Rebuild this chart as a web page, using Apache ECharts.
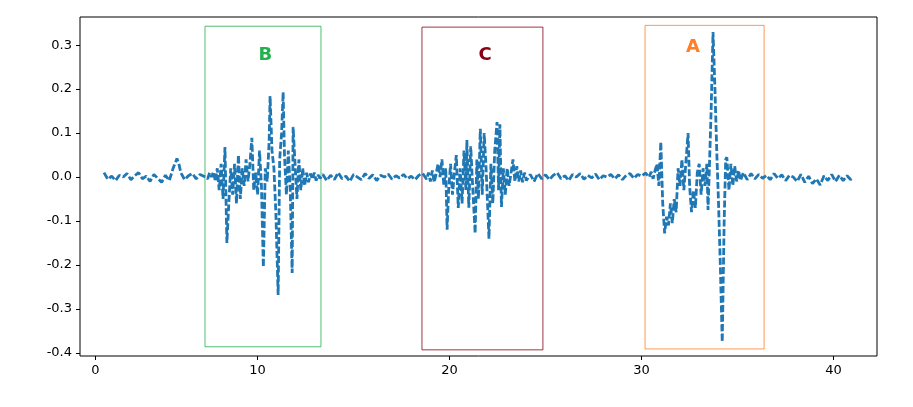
<!DOCTYPE html>
<html><head><meta charset="utf-8">
<script src="https://cdn.jsdelivr.net/npm/echarts@6/dist/echarts.min.js"></script>
<style>html,body{margin:0;padding:0;background:#fff}#c{width:913px;height:407px}</style>
</head><body><div id="c"></div>
<script>
const calm1=[[2.0,0.01],[2.2,-0.005],[2.4,0.002],[2.6,-0.008],[2.8,0.004],[3.0,0.0],[3.2,0.008],[3.4,-0.006],[3.6,0.003],[3.8,0.01],[4.0,-0.004],[4.2,0.002],[4.4,-0.01],[4.6,0.006],[4.8,-0.003],[5.0,-0.012],[5.2,0.004],[5.4,-0.008],[5.6,0.02],[5.8,0.042],[5.9,0.03],[6.0,0.01],[6.2,-0.006],[6.4,0.003],[6.6,0.008],[6.8,-0.004],[7.0,0.006],[7.2,0.002]];
const burstB=[[7.3,0.006],[7.4,-0.004],[7.5,0.01],[7.6,0.0],[7.7,0.012],[7.8,-0.01],[7.9,0.02],[8.0,-0.03],[8.1,0.03],[8.2,-0.05],[8.3,0.068],[8.4,-0.15],[8.5,-0.06],[8.6,0.02],[8.7,-0.04],[8.8,0.03],[8.9,-0.06],[9.0,0.05],[9.1,-0.05],[9.2,0.02],[9.3,-0.02],[9.4,0.04],[9.5,-0.01],[9.6,0.03],[9.7,0.089],[9.8,-0.03],[9.9,0.01],[10.0,-0.04],[10.1,0.06],[10.2,-0.02],[10.3,-0.205],[10.4,0.02],[10.5,-0.01],[10.6,0.08],[10.65,0.184],[10.75,0.06],[10.85,0.02],[10.95,-0.08],[11.07,-0.268],[11.15,0.04],[11.25,0.1],[11.33,0.193],[11.4,0.05],[11.5,-0.04],[11.6,0.06],[11.7,-0.03],[11.8,-0.218],[11.85,0.114],[11.95,0.03],[12.05,-0.05],[12.15,0.04],[12.25,-0.03],[12.35,0.02],[12.45,-0.02],[12.55,0.01],[12.65,-0.012],[12.75,0.008],[12.85,-0.005],[12.95,0.01],[13.05,-0.008],[13.15,0.005],[13.25,-0.003]];
const calm2=[[13.4,0.006],[13.6,-0.008],[13.8,0.004],[14.0,-0.006],[14.2,0.01],[14.4,-0.004],[14.6,0.002],[14.8,-0.01],[15.0,0.006],[15.2,0.0],[15.4,-0.006],[15.6,0.008],[15.8,-0.003],[16.0,0.005],[16.2,-0.008],[16.4,0.004],[16.6,0.0],[16.8,0.007],[17.0,-0.005],[17.2,0.003],[17.4,-0.002],[17.6,0.006],[17.8,-0.004],[18.0,0.002],[18.2,-0.006],[18.4,0.004],[18.6,0.008]];
const burstC=[[18.8,-0.005],[18.9,0.01],[19.0,-0.01],[19.1,0.015],[19.2,-0.012],[19.3,0.008],[19.4,0.03],[19.5,0.0],[19.6,0.04],[19.7,-0.02],[19.8,0.02],[19.87,-0.12],[19.95,-0.03],[20.05,0.03],[20.15,-0.04],[20.25,0.01],[20.35,0.05],[20.45,-0.07],[20.55,0.02],[20.65,-0.06],[20.75,0.06],[20.85,-0.03],[20.9,0.084],[21.0,-0.07],[21.1,0.07],[21.2,-0.02],[21.33,-0.128],[21.42,0.04],[21.5,-0.05],[21.6,0.11],[21.7,-0.04],[21.8,0.1],[21.9,0.02],[22.05,-0.14],[22.15,0.03],[22.25,-0.06],[22.35,0.06],[22.47,0.125],[22.55,-0.03],[22.62,0.12],[22.7,-0.068],[22.8,0.02],[22.9,-0.04],[23.0,0.02],[23.1,-0.02],[23.2,0.01],[23.3,0.04],[23.4,-0.01],[23.5,0.025],[23.6,-0.01],[23.7,0.015],[23.8,-0.012],[23.9,0.01],[24.0,-0.008],[24.2,0.006],[24.4,-0.01],[24.6,0.008],[24.8,-0.004]];
const calm3=[[25.0,0.005],[25.2,-0.006],[25.4,0.004],[25.6,0.01],[25.8,-0.004],[26.0,0.003],[26.2,-0.008],[26.4,0.006],[26.6,0.0],[26.8,0.008],[27.0,-0.005],[27.2,0.004],[27.4,-0.002],[27.6,0.007],[27.8,-0.006],[28.0,0.003],[28.2,0.0],[28.4,0.006],[28.6,-0.004],[28.8,0.005],[29.0,-0.006],[29.2,0.004],[29.4,0.008],[29.6,-0.003],[29.8,0.006],[30.0,0.002],[30.2,0.009]];
const burstA=[[30.4,0.0],[30.5,0.012],[30.6,-0.004],[30.7,0.015],[30.8,0.03],[30.9,-0.02],[31.0,0.08],[31.1,-0.06],[31.2,-0.128],[31.3,-0.09],[31.4,-0.11],[31.5,-0.06],[31.6,-0.105],[31.7,-0.05],[31.8,-0.08],[31.9,0.02],[32.0,-0.02],[32.1,0.04],[32.2,-0.03],[32.3,0.03],[32.42,0.1],[32.5,-0.02],[32.6,-0.08],[32.7,-0.03],[32.8,-0.07],[32.9,0.01],[33.0,0.03],[33.1,-0.04],[33.2,0.02],[33.3,-0.02],[33.4,0.03],[33.46,-0.075],[33.55,0.05],[33.62,0.15],[33.72,0.33],[33.82,0.2],[33.92,0.05],[34.0,-0.05],[34.1,-0.2],[34.2,-0.375],[34.3,-0.1],[34.38,0.04],[34.44,0.045],[34.55,-0.03],[34.65,0.03],[34.75,-0.02],[34.85,0.025],[34.95,-0.01],[35.05,0.015],[35.15,-0.008],[35.3,0.01],[35.5,-0.006],[35.7,0.008],[35.9,-0.004],[36.1,0.006],[36.3,-0.003]];
const calm4=[[36.5,0.004],[36.7,-0.006],[36.9,0.008],[37.1,-0.003],[37.3,0.005],[37.5,-0.008],[37.7,0.004],[37.9,0.0],[38.1,-0.01],[38.3,0.006],[38.5,-0.012],[38.7,0.002],[38.9,-0.015],[39.1,-0.004],[39.3,-0.018],[39.5,0.003],[39.7,-0.008],[39.9,0.006],[40.1,-0.01],[40.3,0.004],[40.5,-0.008],[40.7,0.003],[40.9,-0.006],[41.0,0.0]];
const xTicks=[1.55,10,20,30,40];
const xTickLabels=['0','10','20','30','40'];
const yTicks=[-0.4,-0.3,-0.2,-0.1,0,0.1,0.2,0.3];
const regionNames=['B','C','A'];
const regionBounds=[[7.26,13.3,0.343,-0.386],[18.56,24.86,0.341,-0.393],[30.18,36.38,0.345,-0.391]];
const regionColors=['#22b14c','#880015','#ff7f27'];
const regionLabelPos=[[10.4,0.277],[21.85,0.277],[32.68,0.295]];

const signal=[].concat(calm1,burstB,calm2,burstC,calm3,burstA,calm4);
const chart=echarts.init(document.getElementById('c'));
const font='DejaVu Sans';
chart.setOption({
  animation:false,
  grid:{left:80,right:36,top:17,bottom:51,show:true,borderColor:'#000',borderWidth:1},
  xAxis:{type:'value',min:0.75,max:42.26,splitLine:{show:false},
    axisLine:{show:false,onZero:false},
    axisTick:{show:true,customValues:xTicks,length:4,lineStyle:{color:'#000'}},
    axisLabel:{customValues:xTicks,color:'#000',fontFamily:font,fontSize:13,margin:8,
      formatter:v=>xTickLabels[xTicks.indexOf(v)]}},
  yAxis:{type:'value',min:-0.407,max:0.364,splitLine:{show:false},
    axisLine:{show:false,onZero:false},
    axisTick:{show:true,customValues:yTicks,length:4,lineStyle:{color:'#000'}},
    axisLabel:{customValues:yTicks,color:'#000',fontFamily:font,fontSize:13,margin:8,
      formatter:v=>v.toFixed(1)}},
  series:[
    {type:'line',data:signal,showSymbol:false,symbol:'none',
     lineStyle:{color:'#1f77b4',width:2.8,type:[7,2.5]},z:3,
     markArea:{silent:true,data:regionBounds.map((b,i)=>[
       {coord:[b[0],b[2]],itemStyle:{color:'rgba(0,0,0,0)',borderColor:regionColors[i],borderWidth:0.8,opacity:1}},
       {coord:[b[1],b[3]]}]),label:{show:false}}},
    {type:'scatter',symbolSize:0,z:4,itemStyle:{opacity:1},
     data:regionLabelPos.map((p,i)=>({value:p,label:{show:true,position:'inside',formatter:regionNames[i],
       color:regionColors[i],opacity:1,fontFamily:font,fontWeight:'bold',fontSize:18}}))}
  ]
});
</script></body></html>
